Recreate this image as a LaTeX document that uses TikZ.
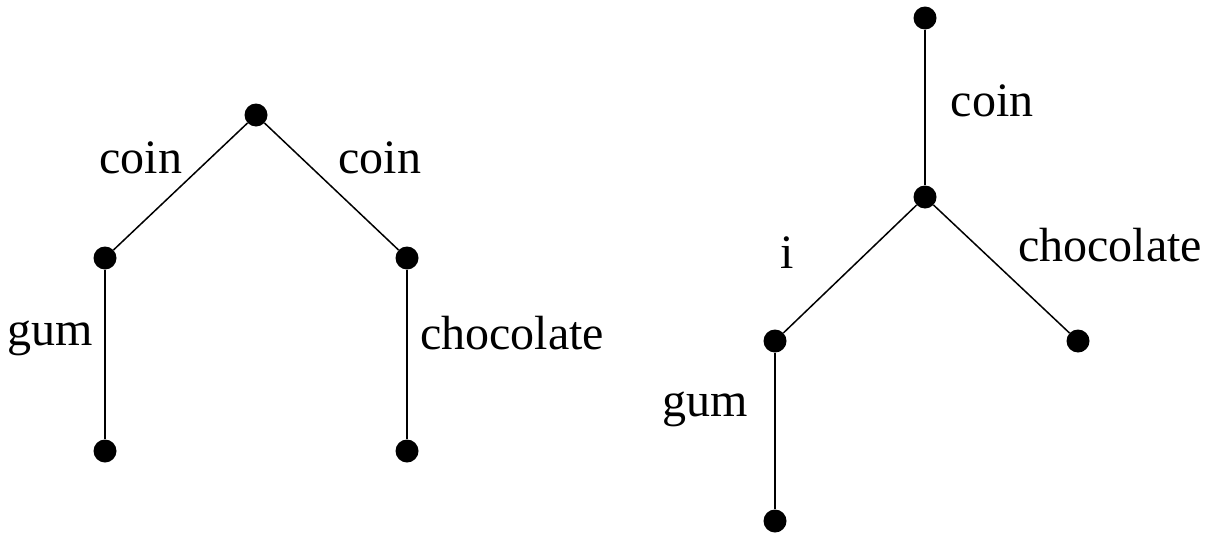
\documentclass[tikz,border=0pt]{standalone}
\usepackage{fontspec}
\setmainfont{Liberation Serif}
\begin{document}
\begin{tikzpicture}[x=1pt,y=-1pt,
  dot/.style={circle,fill=black,inner sep=0pt,minimum size=23pt},
  edge/.style={line width=1.5pt},
  lab/.style={font=\fontsize{48}{56}\selectfont,inner sep=0pt}]
\useasboundingbox (0,0) rectangle (1220,538);
% left tree
\node[dot] (r) at (256,115) {};
\node[dot] (a) at (105,258) {};
\node[dot] (b) at (407,258) {};
\node[dot] (c) at (105,451) {};
\node[dot] (d) at (407,451) {};
\draw[edge] (r) -- (a);
\draw[edge] (r) -- (b);
\draw[edge] (a) -- (c);
\draw[edge] (b) -- (d);
\node[lab] (l1) at (141,158) {coin};
\node[lab] (l2) at (380,158) {coin};
\node[lab] (l3) at (50,338) {gum};
\node[lab] (l4) at (512,333) {chocolate};
% right tree
\node[dot] (t) at (925,18) {};
\node[dot] (m) at (925,197) {};
\node[dot] (p) at (775,341) {};
\node[dot] (q) at (1078,341) {};
\node[dot] (s) at (775,521) {};
\draw[edge] (t) -- (m);
\draw[edge] (m) -- (p);
\draw[edge] (m) -- (q);
\draw[edge] (p) -- (s);
\node[lab] (l5) at (992,101) {coin};
\node[lab] (l6) at (787,253) {i};
\node[lab] (l7) at (1110,245) {chocolate};
\node[lab] (l8) at (705,409) {gum};
\end{tikzpicture}
\end{document}
